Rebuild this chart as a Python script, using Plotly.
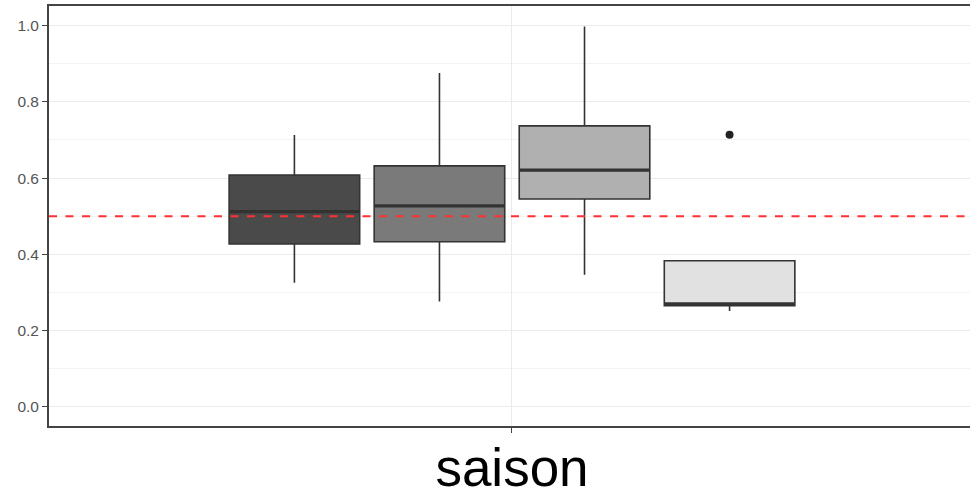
import plotly.graph_objects as go

category = ["saison"]
groups = ["g1", "g2", "g3", "g4"]
q1 = [0.427, 0.433, 0.545, 0.265]
median = [0.512, 0.527, 0.621, 0.270]
q3 = [0.608, 0.632, 0.737, 0.383]
lowerfence = [0.325, 0.276, 0.346, 0.251]
upperfence = [0.713, 0.876, 0.998, 0.383]
outliers = [None, None, None, [0.714]]
fills = ["#4a4a4a", "#7a7a7a", "#b0b0b0", "#e1e1e1"]
ref_value = 0.5

fig = go.Figure()
for i, g in enumerate(groups):
    kw = {}
    if outliers[i]:
        kw["y"] = [outliers[i]]
        kw["boxpoints"] = "outliers"
    else:
        kw["boxpoints"] = False
    fig.add_trace(go.Box(
        x=category,
        q1=[q1[i]], median=[median[i]], q3=[q3[i]],
        lowerfence=[lowerfence[i]], upperfence=[upperfence[i]],
        name=g, offsetgroup=g, fillcolor=fills[i],
        line=dict(color="#333333", width=1.6), whiskerwidth=0,
        marker=dict(color="#222222", size=8, outliercolor="#222222",
                    line=dict(width=0)),
        showlegend=False, hoverinfo="skip", **kw,
    ))
for i, g in enumerate(groups):
    fig.add_trace(go.Box(
        x=category,
        q1=[median[i]], median=[median[i]], q3=[median[i]],
        lowerfence=[median[i]], upperfence=[median[i]],
        name=g + "_med", offsetgroup=g, fillcolor="rgba(0,0,0,0)",
        line=dict(color="#333333", width=3.2), whiskerwidth=0,
        boxpoints=False, showlegend=False, hoverinfo="skip",
    ))

fig.add_shape(type="line", xref="paper", x0=0, x1=1, yref="y",
              y0=ref_value, y1=ref_value,
              line=dict(color="#ff3030", width=2, dash="8px,8.5px"))

fig.update_layout(
    width=970, height=497,
    margin=dict(l=49, r=0, t=6, b=71),
    paper_bgcolor="white", plot_bgcolor="white",
    boxmode="group", boxgap=0.37, boxgroupgap=0.1,
    font=dict(family="Liberation Sans, Arial, sans-serif"),
    xaxis=dict(
        type="category", range=[-0.5027, 0.4973], autorange=False,
        showline=True, linecolor="#444444", linewidth=1.8, mirror=True,
        showgrid=True, gridcolor="#ebebeb", gridwidth=1.3,
        ticks="outside", ticklen=5, tickwidth=1.3, tickcolor="#444444",
        tickfont=dict(size=53, color="#000000"), automargin=False,
        ticklabelstandoff=-11,
        zeroline=False,
    ),
    yaxis=dict(
        range=[-0.0507, 1.0517], autorange=False,
        tickvals=[0, 0.2, 0.4, 0.6, 0.8, 1.0],
        ticktext=["0.0", "0.2", "0.4", "0.6", "0.8", "1.0"],
        showline=True, linecolor="#444444", linewidth=1.8,
        showgrid=True, gridcolor="#ebebeb", gridwidth=1.3,
        minor=dict(tickvals=[0.1, 0.3, 0.5, 0.7, 0.9], showgrid=True,
                   gridcolor="#f3f3f3", gridwidth=0.8, ticks=""),
        ticks="outside", ticklen=5, tickwidth=1.3, tickcolor="#444444",
        tickfont=dict(size=15.5, color="#555555"), automargin=False,
        zeroline=False,
    ),
)

fig.write_html("out.html")
